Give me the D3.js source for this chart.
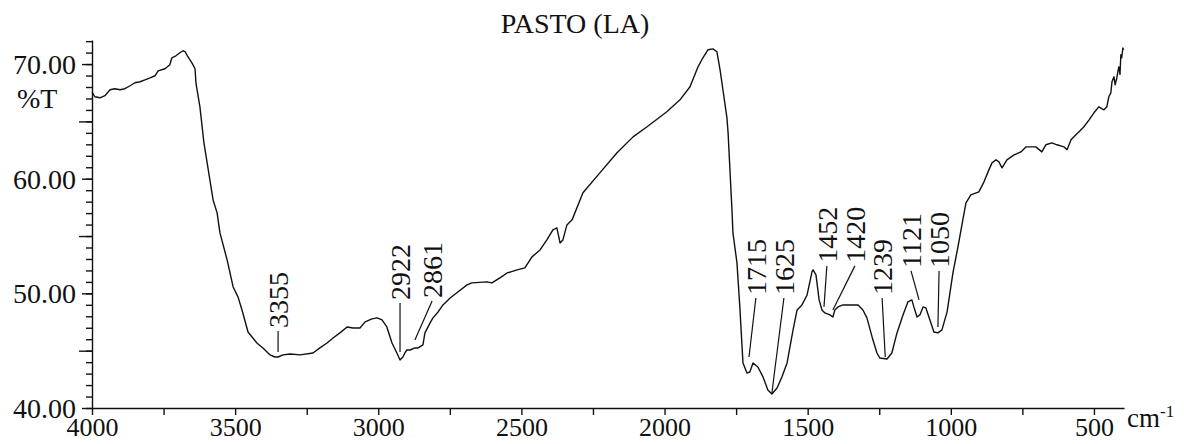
<!DOCTYPE html>
<html>
<head>
<meta charset="utf-8">
<script src="https://cdn.jsdelivr.net/npm/d3@7"></script>
<style>
  body { margin: 0; background: #fff; }
  svg text { font-family: "Liberation Serif", "Times New Roman", serif; fill: #111; }
  .spec { fill: none; stroke: #111; stroke-width: 1.4; stroke-linejoin: round; }
  .lead { stroke: #111; stroke-width: 1.2; }
  .axis path, .axis line { stroke: #111; stroke-width: 1.4; }
</style>
</head>
<body>
<svg id="chart" width="1184" height="444"></svg>
<script>
// spectrum: wavenumber (cm-1) and %T
const wavenumber = [4000, 3990, 3972, 3955, 3937, 3920, 3902, 3885, 3867, 3850, 3832, 3815, 3797, 3780, 3769, 3745, 3728, 3721, 3707, 3693,
  3682, 3675, 3665, 3651, 3640, 3637, 3623, 3609, 3591, 3577, 3563, 3553, 3528, 3507, 3490, 3476, 3455, 3424, 3403, 3378,
  3361, 3350, 3333, 3308, 3273, 3228, 3204, 3179, 3158, 3134, 3109, 3088, 3064, 3046, 3022, 3004, 2987, 2970, 2952, 2935,
  2924, 2914, 2907, 2900, 2889, 2872, 2861, 2844, 2837, 2819, 2809, 2791, 2774, 2749, 2722, 2690, 2673, 2620, 2603, 2575,
  2550, 2515, 2488, 2463, 2435, 2411, 2390, 2376, 2365, 2355, 2341, 2323, 2285, 2226, 2166, 2110, 2061, 1992, 1946, 1911,
  1883, 1866, 1848, 1831, 1817, 1806, 1796, 1782, 1778, 1771, 1764, 1761, 1747, 1737, 1726, 1712, 1702, 1691, 1674, 1656,
  1639, 1625, 1607, 1590, 1572, 1551, 1537, 1520, 1502, 1485, 1481, 1471, 1460, 1450, 1440, 1422, 1412, 1405, 1394, 1377,
  1324, 1307, 1293, 1275, 1258, 1248, 1223, 1206, 1188, 1167, 1150, 1136, 1129, 1118, 1108, 1097, 1087, 1073, 1059, 1045,
  1031, 1013, 1003, 992, 975, 958, 947, 930, 902, 884, 867, 856, 842, 832, 821, 804, 779, 755, 737, 703,
  682, 668, 647, 629, 605, 594, 580, 563, 552, 535, 517, 500, 483, 465, 455, 448, 441, 437, 430, 426,
  420, 416, 413, 409, 406, 403, 399, 396];
const transmittance = [67.56, 67.15, 67.06, 67.24, 67.76, 67.85, 67.76, 67.85, 68.11, 68.37, 68.46, 68.63, 68.80, 68.98, 69.41, 69.59, 69.94, 70.55, 70.72, 70.99,
  71.16, 71.08, 70.64, 70.11, 69.59, 68.37, 66.27, 63.13, 60.34, 58.15, 57.02, 55.27, 52.92, 50.56, 49.69, 48.55, 46.63, 45.67, 45.24, 44.63,
  44.45, 44.45, 44.63, 44.71, 44.63, 44.80, 45.24, 45.67, 46.11, 46.55, 47.07, 46.98, 46.98, 47.51, 47.77, 47.86, 47.68, 47.07, 45.67, 44.80,
  44.19, 44.45, 44.80, 45.06, 45.06, 45.24, 45.24, 45.50, 46.55, 47.42, 47.86, 48.38, 48.99, 49.60, 50.12, 50.74, 50.91, 51.00, 50.91, 51.35,
  51.78, 52.05, 52.22, 53.18, 53.79, 54.66, 55.54, 55.71, 54.40, 54.66, 55.97, 56.41, 58.77, 60.51, 62.26, 63.65, 64.53, 65.84, 66.88, 68.02,
  69.76, 70.55, 71.25, 71.33, 71.07, 69.50, 67.76, 65.31, 64.00, 60.51, 57.02, 55.27, 52.66, 48.82, 43.93, 43.05, 43.14, 43.93, 43.58, 42.71,
  41.57, 41.22, 41.75, 42.71, 43.93, 46.81, 48.55, 48.99, 49.86, 51.87, 52.05, 51.61, 49.43, 48.55, 48.29, 48.12, 47.94, 48.55, 48.82, 48.99,
  48.99, 48.55, 47.86, 46.20, 44.80, 44.36, 44.28, 44.80, 46.55, 48.12, 49.25, 49.43, 48.82, 47.94, 48.12, 48.82, 48.73, 47.68, 46.63, 46.55,
  46.81, 48.38, 50.04, 51.87, 54.05, 56.41, 57.89, 58.59, 58.85, 59.73, 60.77, 61.38, 61.65, 61.47, 60.95, 61.65, 62.08, 62.34, 62.78, 62.78,
  62.34, 62.96, 63.13, 62.96, 62.78, 62.52, 63.39, 63.83, 64.09, 64.53, 65.14, 65.75, 66.27, 66.01, 66.27, 67.15, 67.49, 68.45, 68.89, 68.20,
  68.80, 69.40, 69.76, 69.10, 70.81, 70.55, 71.40, 71.25];

// peak labels: text centre / text foot, and where the leader touches the trace
const peakNames = ["3355", "2922", "2861", "1715", "1625", "1452", "1420", "1239", "1121", "1050"];
const peakTextWn = [3350, 2924, 2812, 1681, 1583, 1433, 1335, 1240, 1139, 1041];
const peakTextT = [46.98, 49.43, 49.60, 49.86, 49.86, 52.66, 52.66, 49.86, 52.22, 52.22];
const peakTipWn = [3350, 2924, 2872, 1705, 1625, 1443, 1412, 1229, 1111, 1045];
const peakTipT = [44.89, 44.89, 45.94, 44.45, 41.31, 48.82, 48.55, 44.45, 49.43, 47.07];

const xLabelTicks = [4000, 3500, 3000, 2500, 2000, 1500, 1000, 500];
const yLabelTicks = [40, 50, 60, 70];

const titleText = "PASTO (LA)";
const yTitle = "%T";

var svg = d3.select("#chart");

var x = d3.scaleLinear().domain([4000, 395]).range([92, 1124]);
var y = d3.scaleLinear().domain([40, 72.1]).range([408, 40]);

const fs = 28;

// title
svg.append("text")
  .attr("x", 575).attr("y", 33)
  .attr("text-anchor", "middle")
  .style("font-size", fs + "px")
  .text(titleText);

// y axis - three layers of ticks (minor, 5's, labelled 10's)
svg.append("g").attr("class", "axis")
  .attr("transform", "translate(92,0)")
  .call(d3.axisLeft(y).tickValues(d3.range(40, 73, 1)).tickSize(6).tickFormat("").tickSizeOuter(0))
  .call(g => g.select(".domain").remove());

svg.append("g").attr("class", "axis")
  .attr("transform", "translate(92,0)")
  .call(d3.axisLeft(y).tickValues([45, 55, 65]).tickSize(13).tickFormat("").tickSizeOuter(0))
  .call(g => g.select(".domain").remove());

var yAx = svg.append("g").attr("class", "axis")
  .attr("transform", "translate(92,0)")
  .call(d3.axisLeft(y).tickValues(yLabelTicks).tickSize(10).tickPadding(6)
    .tickFormat(d3.format(".2f")).tickSizeOuter(0));
yAx.selectAll("text").style("font-size", fs + "px").attr("dy", "0.34em");

svg.append("text")
  .attr("x", 17).attr("y", 108)
  .style("font-size", fs + "px")
  .text(yTitle);

// x axis - labels kept a touch smaller so they fit above the bottom edge
var xAx = svg.append("g").attr("class", "axis")
  .attr("transform", "translate(0,408)")
  .call(d3.axisBottom(x).tickValues(d3.range(500, 4001, 250)).tickSize(7).tickPadding(3)
    .tickFormat(d => xLabelTicks.includes(d) ? d : "").tickSizeOuter(0));
xAx.selectAll("text").style("font-size", "26px");

// unit label
var unit = svg.append("text")
  .attr("x", 1127).attr("y", 427)
  .style("font-size", "27px");
unit.append("tspan").text("cm");
unit.append("tspan").attr("dy", "-10").style("font-size", "17px").text("-1");

// the spectrum
const pts = wavenumber.map((w, i) => [w, transmittance[i]]);
svg.append("path")
  .datum(pts)
  .attr("class", "spec")
  .attr("d", d3.line().x(d => x(d[0])).y(d => y(d[1])));

// peak labels + leader lines
peakNames.forEach((name, i) => {
  const tx = x(peakTextWn[i]);
  const ty = y(peakTextT[i]);
  svg.append("line")
    .attr("class", "lead")
    .attr("x1", tx).attr("y1", ty + 3)
    .attr("x2", x(peakTipWn[i])).attr("y2", y(peakTipT[i]));
  svg.append("text")
    .attr("transform", `translate(${tx},${ty}) rotate(-90)`)
    .attr("dy", "0.35em")
    .style("font-size", fs + "px")
    .text(name);
});
</script>
</body>
</html>
